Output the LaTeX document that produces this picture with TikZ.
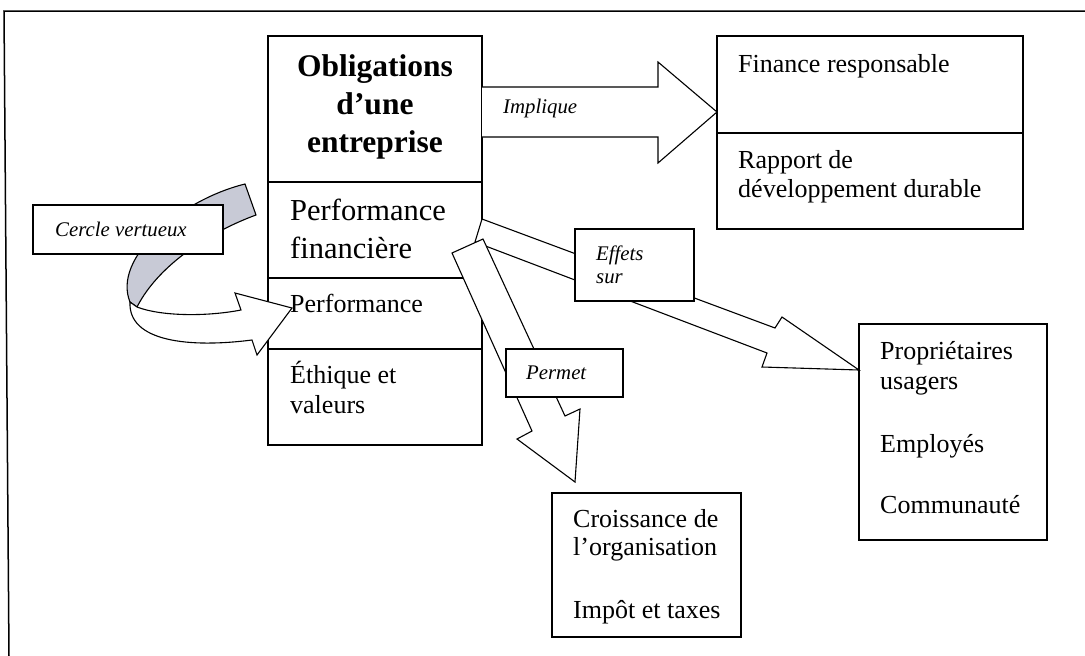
\documentclass[tikz,border=0pt]{standalone}
\usepackage{fontspec}
\setmainfont{Liberation Serif}
\usetikzlibrary{calc}
\definecolor{ribbon}{RGB}{200,202,214}
\begin{document}
\begin{tikzpicture}[x=1pt,y=-1pt,
  box/.style={draw, line width=1.1pt, fill=white, anchor=north west, inner sep=0pt, outer sep=0pt},
  txt/.style={anchor=base west, inner sep=0pt, font=\fontsize{26}{30}\selectfont},
  bigtxt/.style={anchor=base west, inner sep=0pt, font=\fontsize{30.5}{38}\selectfont},
  boldtxt/.style={anchor=base, inner sep=0pt, font=\fontsize{31.5}{38}\selectfont\bfseries},
  lab/.style={anchor=base west, inner sep=0pt, font=\fontsize{20.8}{23}\selectfont\itshape},
  blk/.style={draw, fill=white, line width=1.1pt, line join=miter},
  frame/.style={draw, line width=1.5pt}]
\useasboundingbox (0,0) rectangle (1085,656);
% outer frame
\coordinate (fTL) at (4,11);
\coordinate (fTR) at (1085,11);
\coordinate (fBL) at (9,656);
\draw[frame] (fTR) -- (fTL) -- (fBL);

% main box
\node[box, minimum width=214pt, minimum height=146pt] (oblig) at (268,36) {};
\node[box, minimum width=214pt, minimum height=96pt] (perffin) at (268,182) {};
\node[box, minimum width=214pt, minimum height=71pt] (perf) at (268,278) {};
\node[box, minimum width=214pt, minimum height=96pt] (ethique) at (268,349) {};

% right boxes
\node[box, minimum width=306pt, minimum height=97pt] (finance) at (717,36) {};
\node[box, minimum width=306pt, minimum height=96pt] (rapport) at (717,133) {};
\node[box, minimum width=188pt, minimum height=216pt] (prop) at (859,324) {};
\node[box, minimum width=189pt, minimum height=144pt] (croiss) at (552,493) {};

% texts in boxes
\node[boldtxt] (t1) at (375,76) {Obligations};
\node[boldtxt] (t2) at (375,114) {d’une};
\node[boldtxt] (t3) at (375,152) {entreprise};
\node[bigtxt] (t4) at (290,220) {Performance};
\node[bigtxt] (t5) at (290,258) {financière};
\node[txt] (t6) at (290,312) {Performance};
\node[txt] (t7) at (290,383) {Éthique et};
\node[txt] (t8) at (290,413) {valeurs};
\node[txt] (t9) at (738,72) {Finance responsable};
\node[txt] (t10) at (738,168) {Rapport de};
\node[txt] (t11) at (738,197) {développement durable};
\node[txt] (t12) at (880,359) {Propriétaires};
\node[txt] (t13) at (880,389) {usagers};
\node[txt] (t14) at (880,452) {Employés};
\node[txt] (t15) at (880,513) {Communauté};
\node[txt] (t16) at (573,527) {Croissance de};
\node[txt] (t17) at (573,555) {l’organisation};
\node[txt] (t18) at (573,618) {Impôt et taxes};

% Implique arrow
\coordinate (implTip) at (717,112);
\draw[blk] (482,87) -- (658,87) -- (658,62) -- (implTip) -- (658,163) -- (658,137) -- (482,137);
\node[lab] (implique) at (503,113) {Implique};

% Effets arrow
\coordinate (effTip) at (859,370);
\draw[blk] (482,219) -- (775,328) -- (782,317) -- (effTip) -- (762,367) -- (767,353) -- (475,242) -- cycle;

% Permet arrow
\coordinate (perTip) at (575,482);
\draw[blk] (483,239) -- (565,416) -- (580,409) -- (perTip) -- (517,439) -- (532,431) -- (452,253) -- cycle;

% label boxes
\node[box, minimum width=119pt, minimum height=72pt] (effets) at (575,229) {};
\node[lab] (e1) at (596,260) {Effets};
\node[lab] (e2) at (596,283) {sur};
\node[box, minimum width=117pt, minimum height=48pt] (permet) at (506,349) {};
\node[lab] (p1) at (526,379) {Permet};

% Cercle vertueux ribbon
\draw[fill=ribbon, line width=1.1pt, line join=miter]
  (245,184) -- (256,215) .. controls (215,230) and (160,262) .. (137,307)
  -- (130,302) .. controls (112,258) and (180,200) .. (245,184) -- cycle;
\node[box, minimum width=190pt, minimum height=49pt] (cercle) at (33,205) {};
\node[lab] (c1) at (55,236) {Cercle vertueux};
\coordinate (cerTip) at (292,308);
\draw[blk] (137,307) .. controls (160,316) and (205,317) .. (241,310)
  -- (235,293) -- (cerTip) -- (257,355) -- (252,340)
  .. controls (190,348) and (128,342) .. (130,302) -- cycle;
\end{tikzpicture}
\end{document}
